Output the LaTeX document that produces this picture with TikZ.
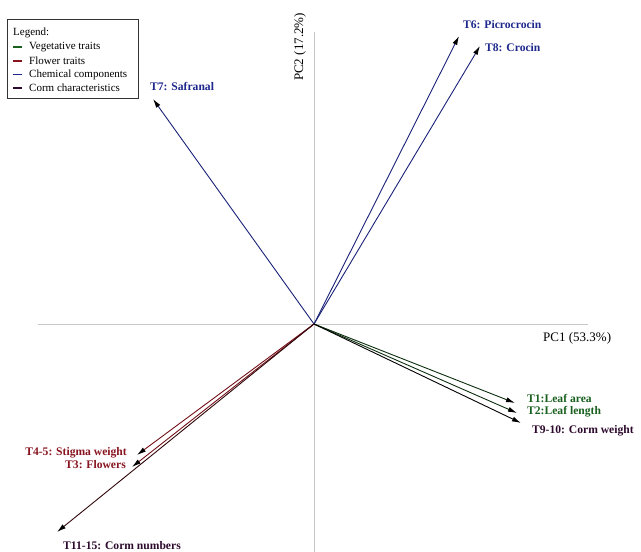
\documentclass[tikz,border=0pt]{standalone}
\usepackage{fontspec}
\setmainfont{Liberation Serif}
\usepackage{tikz}
\usetikzlibrary{arrows.meta}
\definecolor{vegcol}{RGB}{25,95,30}
\definecolor{flowcol}{RGB}{135,20,30}
\definecolor{chemcol}{RGB}{30,40,140}
\definecolor{cormcol}{RGB}{45,10,45}
\tikzset{>={Latex[black,length=9pt,width=5pt]},
  axisline/.style={draw=black!22, line width=0.8pt},
  vec/.style={line width=0.9pt, ->},
  trait/.style={font=\fontsize{11.6}{11.6}\selectfont\bfseries, inner sep=0pt},
  legtext/.style={font=\fontsize{11}{11}\selectfont, anchor=west, inner sep=0pt}}

\begin{document}
\begin{tikzpicture}[x=1pt, y=-1pt]
      \useasboundingbox (0,0) rectangle (641,552);
      % axes
      \coordinate (O) at (314,324);
      \coordinate (XL) at (38,324);
      \coordinate (XR) at (588,324);
      \coordinate (YT) at (314,32);
      \coordinate (YB) at (314,552);
      \draw[axisline] (XL) -- (XR);
      \draw[axisline] (YT) -- (YB);
      \node[font=\fontsize{13}{13}\selectfont, anchor=west, inner sep=0pt] (pc1) at (543,338) {PC1 (53.3\%)};
      \node[font=\fontsize{13}{13}\selectfont, rotate=90, inner sep=0pt] (pc2) at (300,47) {PC2 (17.2\%)};
      % arrow tips
      \coordinate (T7) at (153,99);
      \coordinate (T6) at (459,36);
      \coordinate (T8) at (480,46);
      \coordinate (T1) at (515,403);
      \coordinate (T2) at (517,413);
      \coordinate (T9) at (521,423);
      \coordinate (T4) at (137,455);
      \coordinate (T3) at (132,467);
      \coordinate (T11) at (57,532);
      \draw[chemcol!85!black, vec] (O) -- (T7);
      \draw[chemcol!85!black, vec] (O) -- (T6);
      \draw[chemcol!85!black, vec] (O) -- (T8);
      \draw[vegcol!50!black, vec] (O) -- (T1);
      \draw[vegcol!50!black, vec] (O) -- (T2);
      \draw[black, vec] (O) -- (T9);
      \draw[flowcol!85!black, vec] (O) -- (T4);
      \draw[flowcol!85!black, vec] (O) -- (T3);
      \draw[flowcol!35!black, vec] (O) -- (T11);
      % labels
      \node[trait, chemcol, anchor=west] (l7) at (150,86) {T7: Safranal};
      \node[trait, chemcol, anchor=west] (l6) at (463,25) {T6: Picrocrocin};
      \node[trait, chemcol, anchor=west] (l8) at (485,48) {T8: Crocin};
      \node[trait, vegcol, anchor=west] (l1) at (527,398.5) {T1:Leaf area};
      \node[trait, vegcol, anchor=west] (l2) at (527,412) {T2:Leaf length};
      \node[trait, cormcol, anchor=west] (l9) at (532,431) {T9-10: Corm weight};
      \node[trait, flowcol, anchor=east] (l4) at (127,453) {T4-5: Stigma weight};
      \node[trait, flowcol, anchor=east] (l3) at (126,465) {T3: Flowers};
      \node[trait, cormcol, anchor=west] (l11) at (63,546) {T11-15: Corm numbers};
      % legend
      \draw[black!80, line width=0.8pt] (7,19) rectangle (138,98);
      \node[legtext] (lg) at (13,33) {Legend:};
      \foreach \c/\t [count=\i] in {vegcol/Vegetative traits, flowcol/Flower traits,
          chemcol/Chemical components, cormcol/Corm characteristics}{
        \draw[\c, line width=1.8pt] (13,33+13.8*\i) -- (22,33+13.8*\i);
        \node[legtext] (lg\i) at (29,33+13.8*\i) {\t};
      }
    \end{tikzpicture}
\end{document}
